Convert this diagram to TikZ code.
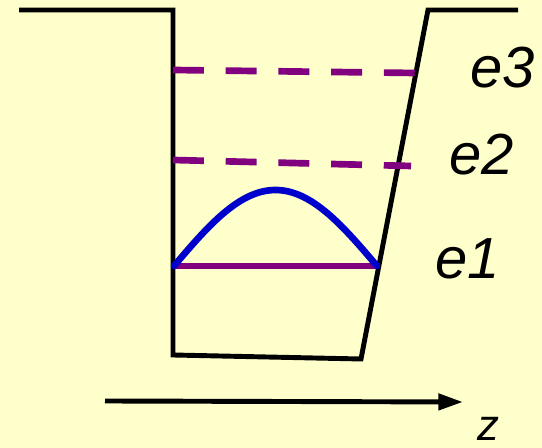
\documentclass[tikz,border=0pt]{standalone}
\usepackage{fontspec}
\setmainfont{Liberation Sans}
\usetikzlibrary{arrows.meta}
\definecolor{paper}{RGB}{255,255,204}
\definecolor{level}{RGB}{128,0,128}
\definecolor{wave}{RGB}{0,0,204}
\tikzset{
  wall/.style={line width=2.8pt,line join=miter},
  levelline/.style={level,line width=3.8pt},
  dashlevel/.style={levelline,dash pattern=on 17.6pt off 12.4pt},
  lbl/.style={anchor=base west,inner sep=0pt,font=\fontsize{33}{36}\selectfont\itshape},
}
\begin{document}
\begin{tikzpicture}[x=0.02cm,y=-0.02cm]
\fill[paper] (0,0) rectangle (542,448);
\useasboundingbox (0,0) rectangle (542,448);

\draw[wall] (19,10)--(173,10)--(173,355)--(361,359)--(428,10)--(518,10);

\draw[dashlevel] (173,70)--(415,73);
\draw[dashlevel] (173,160)--(411,166);
\draw[levelline] (173,266)--(378,266);
\draw[wave,line width=3.8pt,line cap=round,domain=0:1,samples=60,smooth]
  plot ({174+203*\x},{266-76*sin(180*\x)});

\draw[line width=2.8pt,-{Triangle[length=14pt,width=9pt]}] (105,401)--(463,402);

\node[lbl] (e3) at (470,88) {e3};
\node[lbl] (e2) at (449,175) {e2};
\node[lbl] (e1) at (435,279) {e1};
\node[lbl,font=\fontsize{25}{28}\selectfont\itshape] (z) at (477,441) {z};
\end{tikzpicture}
\end{document}
